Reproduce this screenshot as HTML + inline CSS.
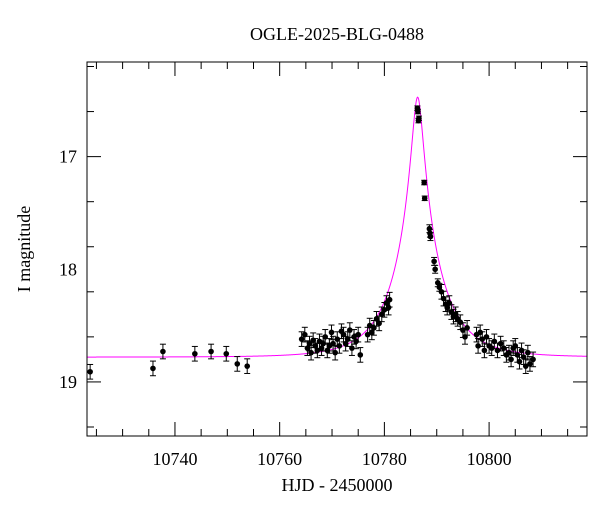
<!DOCTYPE html>
<html><head><meta charset="utf-8"><style>
body{margin:0;background:#fff}
svg text{font-family:"Liberation Serif",serif;fill:#000;font-weight:500}
</style></head><body>
<svg id="c" width="600" height="512" xmlns="http://www.w3.org/2000/svg">
<text x="337" y="40" text-anchor="middle" font-size="18">OGLE-2025-BLG-0488</text>
<text x="337" y="491" text-anchor="middle" font-size="18">HJD - 2450000</text>
<text transform="translate(30,249) rotate(-90)" text-anchor="middle" font-size="18">I magnitude</text>
<g id="ticks"></g>
<g id="model"></g>
<g id="pts"></g>
<rect x="87" y="62" width="500" height="374" fill="none" stroke="#000" stroke-width="1"/>
</svg>
<script>
const xTicks=[10740,10760,10780,10800];
const yTicks=[17,18,19];
const days=[10723.8,10735.8,10737.7,10743.8,10746.9,10749.8,10751.9,10753.8,
10764.2,10764.8,10765.3,10765.7,10766.0,10766.4,10766.8,10767.2,10767.6,10768.0,10768.3,10768.7,10769.1,10769.5,10769.9,10770.2,10770.6,10771.0,10771.4,10771.8,10772.2,10772.6,10773.0,10773.4,10773.8,10774.2,10774.6,10775.0,10775.4,10776.8,10777.2,10777.6,10778.0,10778.5,10779.0,10779.5,10780.0,10780.4,10780.8,10781.0,
10786.3,10786.4,10786.5,10786.6,10787.6,10787.7,10788.6,10788.7,10788.8,10789.5,10789.7,10790.2,10790.5,10790.9,10791.3,10791.7,10792.0,10792.4,10792.8,10793.2,10793.6,10794.0,10794.5,10795.0,10795.4,10795.8,10797.6,10797.9,10798.3,10798.7,10799.1,10799.5,10800.0,10800.5,10801.0,10801.6,10802.2,10802.8,10803.3,10803.8,10804.2,10804.6,10805.0,10805.4,10805.8,10806.2,10806.6,10807.0,10807.4,10807.8,10808.4];
const mags=[18.91,18.88,18.73,18.75,18.73,18.75,18.84,18.86,
18.62,18.58,18.70,18.66,18.74,18.63,18.68,18.72,18.64,18.70,18.66,18.60,18.72,18.68,18.56,18.66,18.74,18.62,18.68,18.55,18.58,18.66,18.62,18.54,18.70,18.60,18.64,18.58,18.76,18.58,18.50,18.56,18.52,18.44,18.48,18.40,18.36,18.30,18.34,18.27,
16.57,16.60,16.68,16.66,17.23,17.37,17.64,17.68,17.71,17.93,18.00,18.12,18.16,18.20,18.26,18.31,18.34,18.30,18.38,18.42,18.40,18.44,18.47,18.54,18.60,18.52,18.58,18.68,18.56,18.62,18.72,18.60,18.68,18.70,18.64,18.72,18.66,18.70,18.76,18.74,18.80,18.70,18.68,18.76,18.82,18.72,18.78,18.86,18.74,18.84,18.80];
const t0=10786.35,u0=0.12,tE=8.4,base=18.78;
const X0=87,X1=587,Y0=62,Y1=436,D0=10723.2,D1=10818.7,M0=16.16,M1=19.48;
const sx=d=>X0+(d-D0)/(D1-D0)*(X1-X0);
const sy=m=>Y0+(m-M0)/(M1-M0)*(Y1-Y0);
const NS="http://www.w3.org/2000/svg";
function mk(t,a,p){const e=document.createElementNS(NS,t);for(const k in a)e.setAttribute(k,a[k]);p.appendChild(e);return e;}
const tg=document.getElementById('ticks');
for(let d=10725;d<=10815;d+=5){const x=sx(d),L=(d%20===0)?14:7;
 let l=mk('line',{x1:x,x2:x,y1:Y1,y2:Y1-L,stroke:'#000'},tg);
 l=mk('line',{x1:x,x2:x,y1:Y0,y2:Y0+L,stroke:'#000'},tg);}
xTicks.forEach(d=>{const t=mk('text',{x:sx(d),y:Y1+29,'text-anchor':'middle','font-size':18},tg);t.textContent=d;});
for(let i=17;i<=97;i+=2){const m=i/5;if(m<M0||m>M1)continue;const y=sy(m),L=(i%5===0)?14:7;
 let l=mk('line',{x1:X0,x2:X0+L,y1:y,y2:y,stroke:'#000'},tg);
 l=mk('line',{x1:X1,x2:X1-L,y1:y,y2:y,stroke:'#000'},tg);}
yTicks.forEach(m=>{const t=mk('text',{x:X0-10,y:sy(m)+6,'text-anchor':'end','font-size':18},tg);t.textContent=m;});
let p='';for(let x=X0;x<=X1;x+=0.5){const d=D0+(x-X0)/(X1-X0)*(D1-D0);const u=Math.sqrt(u0*u0+((d-t0)/tE)**2);const A=(u*u+2)/(u*Math.sqrt(u*u+4));const m=base-2.5*Math.log10(A);p+=(p?'L':'M')+x.toFixed(1)+','+sy(m).toFixed(2);}
const mp=mk('path',{d:p,fill:'none',stroke:'#ff00ff','stroke-width':1},document.getElementById('model'));

const pg=document.getElementById('pts');
days.forEach((d,i)=>{const m=mags[i];const e=m<17.5?0.02:(m<18.2?0.035:0.065);const x=sx(d),y=sy(m),ya=sy(m-e),yb=sy(m+e);
 const g=mk('g',{},pg);
 mk('line',{x1:x,x2:x,y1:ya,y2:yb,stroke:'#000'},g);
 mk('line',{x1:x-3,x2:x+3,y1:ya,y2:ya,stroke:'#000'},g);
 mk('line',{x1:x-3,x2:x+3,y1:yb,y2:yb,stroke:'#000'},g);
 mk('circle',{cx:x,cy:y,r:2.8,fill:'#000'},g);});
</script>
</body></html>
